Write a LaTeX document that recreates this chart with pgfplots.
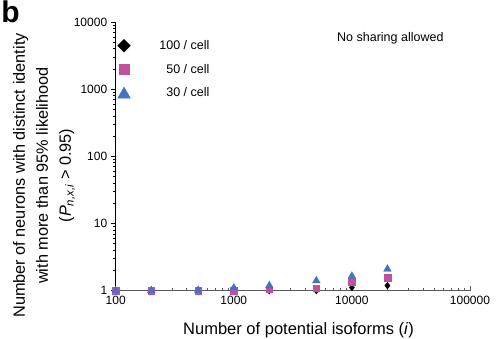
\documentclass[border=0pt]{standalone}
\usepackage{fontspec}
\setmainfont{Liberation Sans}
\usepackage{pgfplots}
\pgfplotsset{compat=1.18}
\definecolor{mag}{RGB}{192,80,160}
\definecolor{blu}{RGB}{68,114,196}
\definecolor{axgray}{RGB}{90,90,90}
\begin{document}
\begin{tikzpicture}[x=1pt,y=1pt]
\path[use as bounding box] (-115.7,-47.3) rectangle (382.3,290.7);
\begin{axis}[
  at={(0,0)}, anchor=south west,
  scale only axis, width=354.3pt, height=268.7pt,
  xmode=log, ymode=log,
  xmin=100, xmax=100000, ymin=1, ymax=10000,
  clip=false,
  axis x line*=bottom, axis y line*=left,
  x axis line style={-, draw=axgray, line width=0.8pt},
  y axis line style={-, draw=black, line width=0.8pt},
  xtick={100,1000,10000,100000},
  xticklabels={100,1000,10000,100000},
  ytick={1,10,100,1000,10000},
  yticklabels={1,10,100,1000,10000},
  minor xtick={}, minor ytick={},
  xtick align=inside, ytick align=outside,
  major tick length=5pt,
  x tick style={draw=axgray, line width=0.8pt},
  y tick style={draw=black, line width=0.8pt},
  tick label style={font=\fontsize{12}{14}\selectfont},
  xticklabel style={yshift=-2pt},
  legend style={draw=none, fill=none, inner sep=0pt, outer sep=0pt,
    at={(axis description cs:0.0056,0.9386)}, anchor=north west,
    font=\fontsize{12.5}{14}\selectfont,
    cells={anchor=east}, column sep=27pt, row sep=9pt,
    nodes={inner sep=2pt}},
]
\addplot[only marks, mark=diamond*, mark size=3.4pt, draw=black, fill=black,
  legend image code/.code={\draw[draw=black, fill=black, mark=square*, mark size=4.5pt, mark options={rotate=45}] plot coordinates {(0pt,0pt)};}]
  coordinates {(100,1) (200,1) (500,1) (1000,1) (2000,1) (5000,1.0) (10000,1.12) (20000,1.19)};
\addlegendentry{100 / cell}
\addplot[only marks, mark=square*, mark size=3.3pt, draw=mag, fill=mag,
  legend image code/.code={\draw[draw=mag, fill=mag, mark=square*, mark size=5.3pt] plot coordinates {(0pt,0pt)};}]
  coordinates {(100,1) (200,1) (500,1) (1000,1.01) (2000,1.05) (5000,1.09) (10000,1.36) (20000,1.56)};
\addlegendentry{50 / cell}
\addplot[only marks, mark=triangle*, mark size=4.4pt, draw=blu, fill=blu,
  legend image code/.code={\draw[draw=blu, fill=blu, mark=triangle*, mark size=7.3pt] plot coordinates {(0pt,-1.5pt)};}]
  coordinates {(100,1) (200,1.01) (500,1.02) (1000,1.1) (2000,1.19) (5000,1.41) (10000,1.65) (20000,2.1)};
\addlegendentry{30 / cell}
\end{axis}
\node[anchor=base west, inner sep=0pt, font=\fontsize{12.5}{14}\selectfont] at (221.3,249.7) {No sharing allowed};
\node[anchor=base, inner sep=0pt, font=\fontsize{16.5}{20}\selectfont] at (182.8,-43.3) {Number of potential isoforms (\textit{i})};
\node[anchor=base, rotate=90, inner sep=0pt, font=\fontsize{16.3}{20}\selectfont] at (25-115.7,115.2) {Number of neurons with distinct identity};
\node[anchor=base, rotate=90, inner sep=0pt, font=\fontsize{16.3}{20}\selectfont] at (48-115.7,115.2) {with more than 95\% likelihood};
\node[anchor=base, rotate=90, inner sep=0pt, font=\fontsize{16.3}{20}\selectfont] at (71-115.7,115.2) {(\textit{P}\textsubscript{\textit{n,x,i}} > 0.95)};
\node[anchor=base west, inner sep=0pt, font=\fontsize{30}{32}\selectfont\bfseries] at (-114.5,268) {b};
\end{tikzpicture}
\end{document}
